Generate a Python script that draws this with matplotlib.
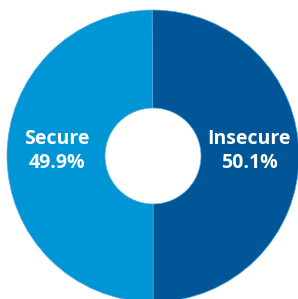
import matplotlib
matplotlib.use("Agg")
import matplotlib.pyplot as plt

labels = ["Insecure", "Secure"]
shares = [50.1, 49.9]
colors = ["#005696", "#0096d6"]

fig = plt.figure(figsize=(2.98, 2.99), dpi=100)
ax = fig.add_axes([0, 0, 1, 1])

wedges, _ = ax.pie(shares, colors=colors, startangle=90, counterclock=False,
                   center=(153, 156), radius=146,
                   wedgeprops=dict(width=98, edgecolor="#5aaade", linewidth=0.5))

ax.set_xlim(0, 298)
ax.set_ylim(299, 0)
ax.set_aspect("equal")
ax.axis("off")

# labels sit in the ring, left and right of the hole
ax.text(249, 151, f"{labels[0]}\n{shares[0]:.1f}%", ha="center", va="center",
        color="white", fontsize=14, fontweight="bold", family="Open Sans",
        linespacing=1.3)
ax.text(57, 151, f"{labels[1]}\n{shares[1]:.1f}%", ha="center", va="center",
        color="white", fontsize=14, fontweight="bold", family="Open Sans",
        linespacing=1.3)

fig.savefig("out.png", dpi=100)
